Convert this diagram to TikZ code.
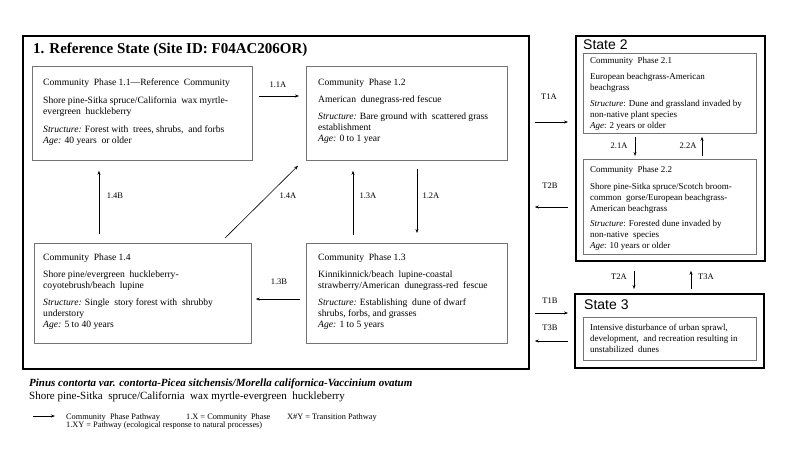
\documentclass[tikz,border=0pt]{standalone}
\usepackage{fontspec}
\setmainfont{Liberation Serif}
\newfontfamily\arialf{Liberation Sans}
\usetikzlibrary{arrows.meta,calc}
\begin{document}
\begin{tikzpicture}[x=1pt,y=-1pt,
  statebox/.style={draw=black,line width=1.8pt,anchor=north west,inner sep=0pt},
  phasebox/.style={draw=black!55,line width=0.8pt,anchor=north west,inner sep=0pt},
  txt/.style={anchor=north west,inner sep=0pt,align=left,font=\fontsize{9.6}{11}\selectfont},
  stxt/.style={anchor=north west,inner sep=0pt,align=left,font=\fontsize{9}{11}\selectfont},
  lbl/.style={font=\fontsize{8.5}{10}\selectfont,inner sep=0pt},
  arr/.style={-{Stealth[length=4pt,width=3pt]},line width=0.6pt},
  statelbl/.style={anchor=west,inner sep=0pt,font=\arialf\fontsize{14}{16}\selectfont},
  legtxt/.style={anchor=base west,inner sep=0pt,font=\fontsize{8.3}{10}\selectfont}]
\useasboundingbox (0,0) rectangle (800,450);

% State boxes
\node[statebox,minimum width=506pt,minimum height=333pt] (s1) at (22,35) {};
\node[statebox,minimum width=189pt,minimum height=225pt] (s2) at (575,35) {};
\node[statebox,minimum width=189pt,minimum height=74pt] (s3) at (574,293) {};

\node[anchor=base west,inner sep=0pt,font=\bfseries\fontsize{15}{17}\selectfont] (t1) at (33,53) {1. Reference State (Site ID: F04AC206OR)};
\node[statelbl] (t2) at (583,45) {State 2};
\node[statelbl] (t3) at (584,305) {State 3};

% Phase boxes
\node[phasebox,minimum width=220pt,minimum height=94pt] (b11) at (32,66) {};
\node[phasebox,minimum width=201pt,minimum height=94pt] (b12) at (306,66) {};
\node[phasebox,minimum width=217pt,minimum height=100pt] (b14) at (34,243) {};
\node[phasebox,minimum width=201pt,minimum height=100pt] (b13) at (306,243) {};
\node[phasebox,minimum width=173pt,minimum height=80pt] (b21) at (583,53) {};
\node[phasebox,minimum width=173pt,minimum height=95pt] (b22) at (583,159) {};
\node[phasebox,minimum width=173pt,minimum height=43pt] (b31) at (583,317) {};

% Texts
\node[txt] (x11) at (43,78.4) {Community\ \ Phase 1.1---Reference\ \ Community\\[7pt]
Shore pine-Sitka spruce/California\ \ wax myrtle-\\
evergreen\ \ huckleberry\\[7pt]
\textit{Structure:} Forest with\ \ trees, shrubs,\ \ and forbs\\
\textit{Age:} 40 years\ \ or older};
\node[txt] (x12) at (318,78.4) {Community\ \ Phase 1.2\\[6pt]
American\ \ dunegrass-red fescue\\[6pt]
\textit{Structure:} Bare ground with\ \ scattered grass\\
establishment\\
\textit{Age:} 0 to 1 year};
\node[txt] (x14) at (43,253.4) {Community\ \ Phase 1.4\\[6pt]
Shore pine/evergreen\ \ huckleberry-\\
coyotebrush/beach\ \ lupine\\[6pt]
\textit{Structure:} Single\ \ story forest with\ \ shrubby\\
understory\\
\textit{Age:} 5 to 40 years};
\node[txt] (x13) at (318,253.4) {Community\ \ Phase 1.3\\[6pt]
Kinnikinnick/beach\ \ lupine-coastal\\
strawberry/American\ \ dunegrass-red\ \ fescue\\[6pt]
\textit{Structure:} Establishing\ \ dune of dwarf\\
shrubs, forbs, and grasses\\
\textit{Age:} 1 to 5 years};
\node[stxt] (x21) at (590,56.8) {Community\ \ Phase 2.1\\[5pt]
European beachgrass-American\\
beachgrass\\[5pt]
\textit{Structure}: Dune and grassland invaded by\\
non-native plant species\\
\textit{Age}: 2 years or older};
\node[stxt] (x22) at (590,165.8) {Community\ \ Phase 2.2\\[6pt]
Shore pine-Sitka spruce/Scotch broom-\\
common\ \ gorse/European beachgrass-\\
American beachgrass\\[4pt]
\textit{Structure}: Forested dune invaded by\\
non-native\ \ species\\
\textit{Age}: 10 years or older};
\node[stxt] (x31) at (590,323.8) {Intensive disturbance of urban sprawl,\\
development,\ \ and recreation resulting in\\
unstabilized\ \ dunes};

% Pathway arrows
\draw[arr,shorten <=6pt,shorten >=7pt] (b11.east |- 0,96) -- (b12.west |- 0,96);
\draw[arr,shorten <=9pt,shorten >=10pt] (b14.north -| 99,0) -- (b11.south -| 99,0);
\draw[arr,shorten <=7pt,shorten >=7pt] (b14.north -| 220,0) -- (b12.south -| 303,0);
\draw[arr,shorten <=8pt,shorten >=10pt] (b13.north -| 353,0) -- (b12.south -| 353,0);
\draw[arr,shorten <=8pt,shorten >=10pt] (b12.south -| 417,0) -- (b13.north -| 417,0);
\draw[arr,shorten <=6pt,shorten >=4pt] (b13.west |- 0,299) -- (b14.east |- 0,299);
\draw[arr,shorten <=5pt,shorten >=7pt] (s1.east |- 0,122) -- (s2.west |- 0,122);
\draw[arr,shorten <=7pt,shorten >=5pt] (s2.west |- 0,207) -- (s1.east |- 0,207);
\draw[arr,shorten <=5pt,shorten >=6pt] (s1.east |- 0,313) -- (s3.west |- 0,313);
\draw[arr,shorten <=6pt,shorten >=5pt] (s3.west |- 0,341) -- (s1.east |- 0,341);
\draw[arr,shorten <=9pt,shorten >=4pt] (s2.south -| 634,0) -- (s3.north -| 634,0);
\draw[arr,shorten <=4pt,shorten >=9pt] (s3.north -| 691,0) -- (s2.south -| 691,0);
\draw[arr,shorten <=3pt,shorten >=3pt] (b21.south -| 635,0) -- (b22.north -| 635,0);
\draw[arr,shorten <=3pt,shorten >=3pt] (b22.north -| 702,0) -- (b21.south -| 702,0);

% Labels
\node[lbl] (l11a) at (278,85) {1.1A};
\node[lbl] (l14b) at (115,196) {1.4B};
\node[lbl] (l14a) at (288,196) {1.4A};
\node[lbl] (l13a) at (368,196) {1.3A};
\node[lbl] (l12a) at (431,196) {1.2A};
\node[lbl] (l13b) at (279,282) {1.3B};
\node[lbl] (lt1a) at (549,97) {T1A};
\node[lbl] (lt2b) at (550,186) {T2B};
\node[lbl] (lt1b) at (550,301) {T1B};
\node[lbl] (lt3b) at (550,328) {T3B};
\node[lbl] (lt2a) at (619,277) {T2A};
\node[lbl] (lt3a) at (706,277) {T3A};
\node[lbl] (l21a) at (619,146) {2.1A};
\node[lbl] (l22a) at (688,146) {2.2A};

% Bottom texts
\node[anchor=base west,inner sep=0pt,font=\bfseries\itshape\fontsize{11}{13}\selectfont] (sci) at (29,386) {Pinus contorta var. contorta-Picea sitchensis/Morella californica-Vaccinium ovatum};
\node[anchor=base west,inner sep=0pt,font=\fontsize{11}{13}\selectfont] (com) at (29,399) {Shore pine-Sitka\ \ spruce/California\ \ wax myrtle-evergreen\ \ huckleberry};

% Legend
\coordinate (la) at (33,416);
\coordinate (lb) at (55,416);
\draw[arr] (la) -- (lb);
\node[legtxt] (g1) at (66,419) {Community\ \ Phase Pathway};
\node[legtxt] (g2) at (186,419) {1.X = Community\ \ Phase};
\node[legtxt] (g3) at (287,419) {X\#Y = Transition Pathway};
\node[legtxt] (g4) at (66,427.5) {1.XY = Pathway (ecological response to natural processes)};
\end{tikzpicture}
\end{document}
